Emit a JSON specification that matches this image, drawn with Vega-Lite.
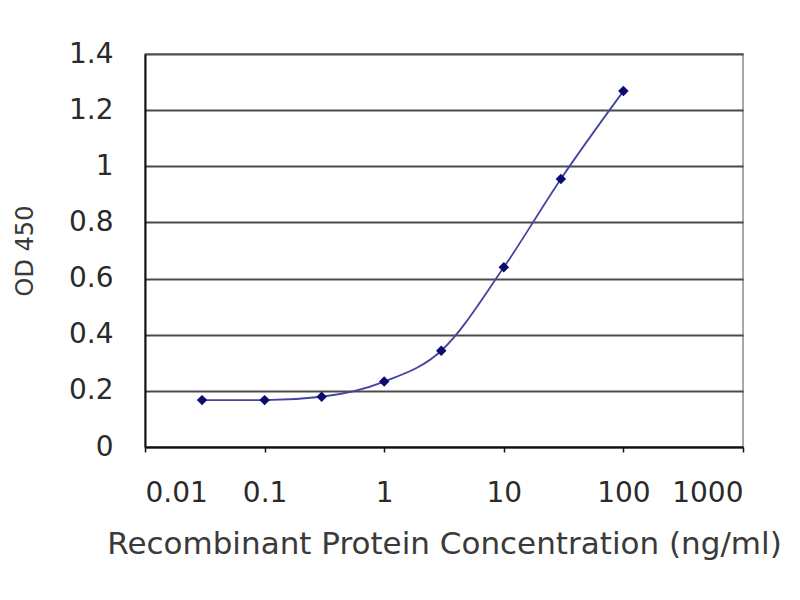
{
  "$schema": "https://vega.github.io/schema/vega-lite/v6.json",
  "width": 598,
  "height": 393,
  "autosize": {"type": "none"},
  "padding": {"left": 145, "top": 54, "right": 57, "bottom": 153},
  "background": "white",
  "config": {
    "font": "DejaVu Sans",
    "view": {"stroke": "#8a8a8a", "strokeWidth": 1.5},
    "axis": {
      "labelFont": "DejaVu Sans",
      "titleFont": "DejaVu Sans",
      "labelColor": "#2a2a2a",
      "titleColor": "#3a3a3a",
      "titleFontWeight": "normal"
    }
  },
  "data": {
    "values": [
      {"conc": 0.03, "od": 0.167},
      {"conc": 0.1, "od": 0.167},
      {"conc": 0.3, "od": 0.179},
      {"conc": 1, "od": 0.233},
      {"conc": 3, "od": 0.343},
      {"conc": 10, "od": 0.64},
      {"conc": 30, "od": 0.955},
      {"conc": 100, "od": 1.268}
    ]
  },
  "encoding": {
    "x": {
      "field": "conc",
      "type": "quantitative",
      "scale": {"type": "log", "domain": [0.01, 1000], "nice": false},
      "axis": {
        "title": "Recombinant Protein Concentration (ng/ml)",
        "values": [0.01, 0.1, 1, 10, 100, 1000],
        "labelExpr": "datum.value + ''",
        "grid": false,
        "domainColor": "#111",
        "domainWidth": 2,
        "tickColor": "#111",
        "tickWidth": 1.5,
        "tickSize": 5,
        "labelFontSize": 28,
        "labelPadding": 27,
        "titleFontSize": 31,
        "titlePadding": 22
      }
    },
    "y": {
      "field": "od",
      "type": "quantitative",
      "scale": {"domain": [0, 1.4], "nice": false},
      "axis": {
        "title": "OD 450",
        "values": [0, 0.2, 0.4, 0.6, 0.8, 1, 1.2, 1.4],
        "format": "~g",
        "grid": true,
        "gridColor": "#4a4a4a",
        "gridWidth": 2,
        "ticks": false,
        "domainColor": "#111",
        "domainWidth": 2,
        "labelFontSize": 28,
        "labelPadding": 32,
        "titleFontSize": 24,
        "titlePadding": 31
      }
    }
  },
  "layer": [
    {
      "mark": {"type": "line", "interpolate": "monotone", "color": "#4444a0", "strokeWidth": 1.8}
    },
    {
      "mark": {"type": "point", "shape": "diamond", "filled": true, "color": "#0c0c70", "size": 110, "opacity": 1}
    }
  ]
}
